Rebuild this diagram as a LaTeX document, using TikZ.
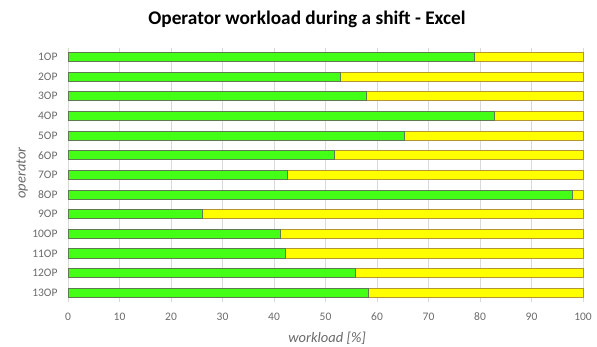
\documentclass[tikz,border=0pt]{standalone}
\usepackage{fontspec}
\setmainfont{Carlito}

\definecolor{busyGreen}{HTML}{44FF16}
\definecolor{busyEdge}{HTML}{5E7A50}
\definecolor{idleYellow}{HTML}{FFFF00}
\definecolor{idleEdge}{HTML}{B3962E}
\definecolor{gridGrey}{HTML}{D9D9D9}
\definecolor{labelGrey}{HTML}{6A6A6A}

\tikzset{
  gridline/.style={draw=gridGrey, line width=0.9pt},
  busybar/.style={fill=busyGreen, draw=busyEdge, line width=0.8pt},
  idlebar/.style={fill=idleYellow, draw=idleEdge, line width=0.8pt},
  ticklabel/.style={text=labelGrey, inner sep=0pt, font=\fontsize{11.5}{13}\selectfont},
  axislabel/.style={text=labelGrey, inner sep=0pt, font=\itshape\fontsize{14.5}{17}\selectfont}
}

\begin{document}
\begin{tikzpicture}[x=1pt, y=-1pt]
\useasboundingbox (0,0) rectangle (597,347);
\node[font=\bfseries\fontsize{19.3}{23}\selectfont] (title) at (307,19) {Operator workload during a shift - Excel};

\begin{scope}[shift={(68,37.36)}, x=5.15pt, y=-19.64pt]
% vertical grid and x tick labels
\foreach \v in {0,10,...,100}
{
   \draw[gridline](\v,0.54)--(\v,13.47);
   \node[ticklabel] (tick\v) at (\v,14.24) {\v};
}
% one bar per operator: busy part, then idle part
\foreach \i/\w in {1/79.0, 2/52.8, 3/58.0, 4/82.7, 5/65.4, 6/51.8, 7/42.6,
                   8/97.9, 9/26.0, 10/41.2, 11/42.3, 12/55.9, 13/58.4}
{
   \draw[idlebar](\w,\i-0.23) rectangle (100,\i+0.23);
   \draw[busybar](0,\i-0.23) rectangle (\w,\i+0.23);
   \node[ticklabel, anchor=east] (op\i) at (-2.0,\i) {\i OP};
}
\node[axislabel] (xlabel) at (50.3,15.3) {workload [\%]};
\node[axislabel, rotate=90] (ylabel) at (-8.9,6.9) {operator};
\end{scope}
\end{tikzpicture}
\end{document}
